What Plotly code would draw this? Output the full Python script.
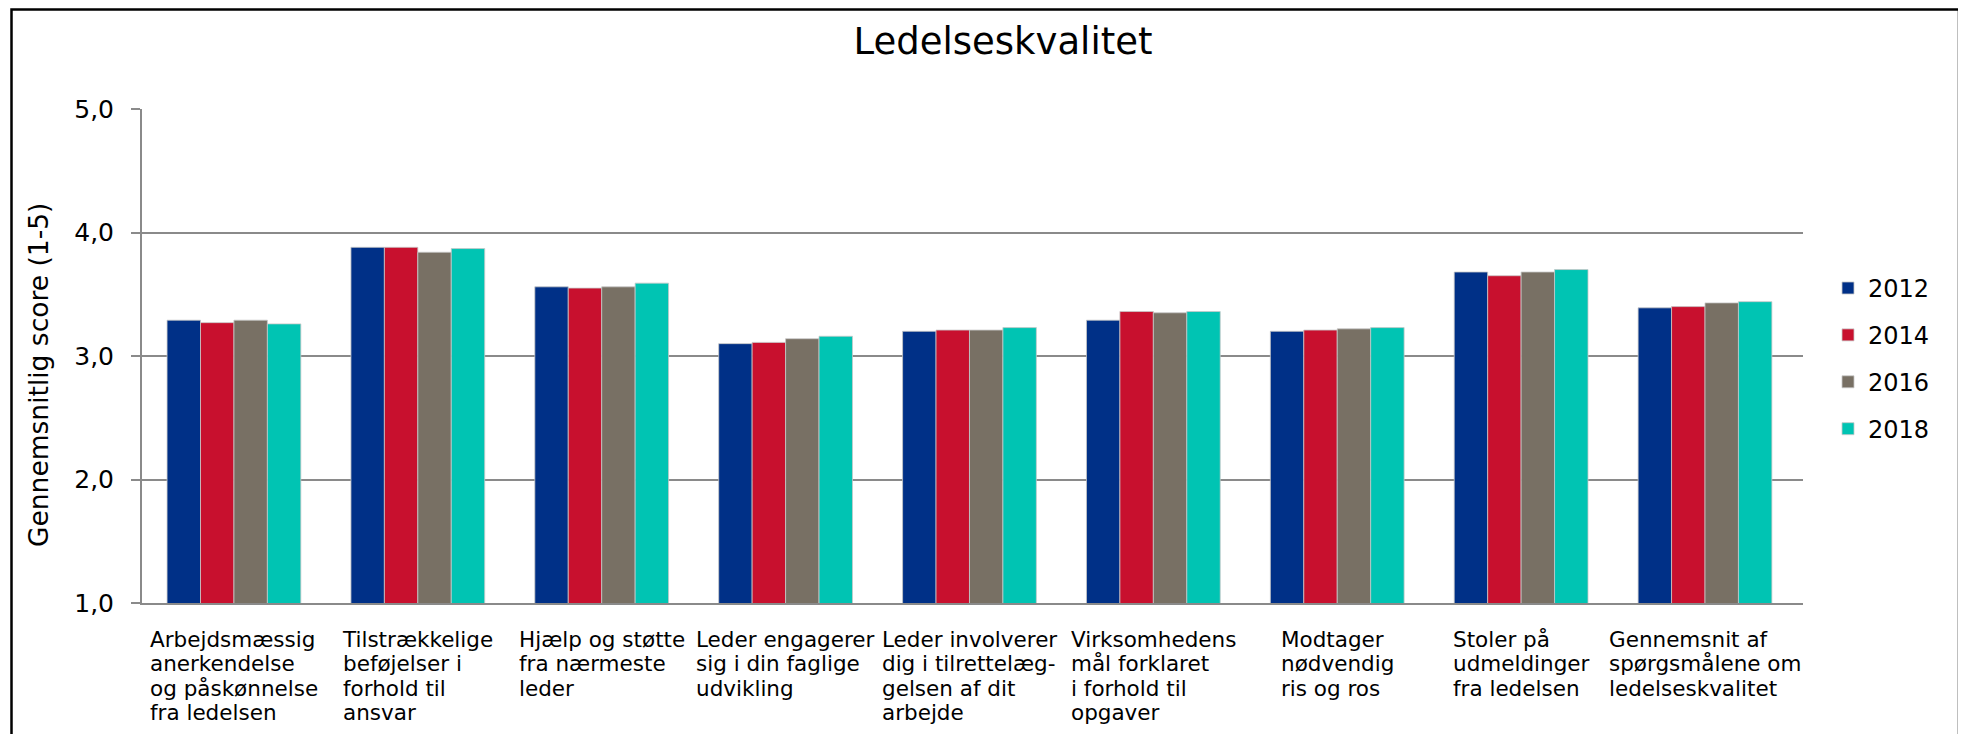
import plotly.graph_objects as go

# ---------------- data ----------------
categories = [
    "Arbejdsmæssig<br>anerkendelse<br>og påskønnelse<br>fra ledelsen",
    "Tilstrækkelige<br>beføjelser i<br>forhold til<br>ansvar",
    "Hjælp og støtte<br>fra nærmeste<br>leder",
    "Leder engagerer<br>sig i din faglige<br>udvikling",
    "Leder involverer<br>dig i tilrettelæg-<br>gelsen af dit<br>arbejde",
    "Virksomhedens<br>mål forklaret<br>i forhold til<br>opgaver",
    "Modtager<br>nødvendig<br>ris og ros",
    "Stoler på<br>udmeldinger<br>fra ledelsen",
    "Gennemsnit af<br>spørgsmålene om<br>ledelseskvalitet",
]
years = ["2012", "2014", "2016", "2018"]
values_2012 = [3.29, 3.88, 3.56, 3.10, 3.20, 3.29, 3.20, 3.68, 3.39]
values_2014 = [3.27, 3.88, 3.55, 3.11, 3.21, 3.36, 3.21, 3.65, 3.40]
values_2016 = [3.29, 3.84, 3.56, 3.14, 3.21, 3.35, 3.22, 3.68, 3.43]
values_2018 = [3.26, 3.87, 3.59, 3.16, 3.23, 3.36, 3.23, 3.70, 3.44]
series = [values_2012, values_2014, values_2016, values_2018]
colors = ["#003087", "#C8102E", "#787064", "#00C4B3"]

title_text = "Ledelseskvalitet"
y_title = "Gennemsnitlig score (1-5)"

# ---------------- layout helpers (screen pixels -> paper) ----------------
OFF = 8  # default page body margin
FIG_W, FIG_H = 1966 - OFF, 734 - OFF
L, R, T, B = 142 - OFF, 1803 - OFF, 109.3 - OFF, 602.7 - OFF
PW, PH = R - L, B - T


def px_x(px):
    return (px - OFF - L) / PW


def px_y(py):
    return (B - (py - OFF)) / PH


FONT = "DejaVu Sans, Verdana, sans-serif"
GRID = "#8a8a8a"
LABEL_SIZE = 21.5
LINE_BASE = 18.7  # base size sets line spacing (1.3 x base)

keys = [f"c{i}" for i in range(len(categories))]

fig = go.Figure()
for name, vals, col in zip(years, series, colors):
    fig.add_trace(go.Bar(
        x=keys, y=vals, name=name, legendgroup=name,
        marker=dict(color=col, line=dict(color="#c8c8c8", width=0.8)),
    ))

annotations = []
for k, lab in zip(keys, categories):
    styled = "<br>".join(
        f"<span style='font-size:{LABEL_SIZE}px'>{ln}</span>" for ln in lab.split("<br>")
    )
    annotations.append(dict(
        x=k, xref="x", y=0, yref="paper", yanchor="top", xanchor="center",
        yshift=-22, text=styled, align="left", showarrow=False,
        font=dict(family=FONT, size=LINE_BASE, color="#000000"),
    ))
annotations.append(dict(
    x=px_x(38), xref="paper", y=px_y(375), yref="paper",
    xanchor="center", yanchor="middle", textangle=-90, text=y_title,
    showarrow=False, font=dict(family=FONT, size=26.5, color="#000000"),
))

fig.update_layout(
    width=FIG_W, height=FIG_H,
    margin=dict(l=L, r=FIG_W - R, t=T, b=FIG_H - B, pad=0),
    paper_bgcolor="white", plot_bgcolor="white",
    separators=",.",
    title=dict(text=title_text, xref="container", yref="container",
               x=(1003 - OFF) / FIG_W, y=1 - (41 - OFF) / FIG_H,
               xanchor="center", yanchor="middle",
               font=dict(family=FONT, size=37, color="#000000")),
    barmode="group", bargap=0.2725, bargroupgap=0,
    showlegend=True,
    legend=dict(x=px_x(1828), xanchor="left", y=px_y(266), yanchor="top",
                font=dict(family=FONT, size=24, color="#000000"),
                tracegroupgap=12.7, bgcolor="rgba(0,0,0,0)"),
    annotations=annotations,
    shapes=[dict(type="rect", xref="paper", yref="paper",
                 x0=px_x(11.5), x1=px_x(1959), y0=px_y(790), y1=px_y(9.8),
                 line=dict(color="#000000", width=2.5), layer="above")],
)
fig.update_xaxes(showticklabels=False, showline=True, linecolor=GRID, linewidth=2,
                 ticks="", showgrid=False, zeroline=False, fixedrange=True)
fig.update_yaxes(range=[1, 5], tickvals=[1, 2, 3, 4, 5], tickformat=".1f",
                 showgrid=True, gridcolor=GRID, gridwidth=2,
                 showline=True, linecolor=GRID, linewidth=2,
                 ticks="outside", ticklen=9, tickwidth=2, tickcolor=GRID,
                 ticklabelstandoff=12,
                 tickfont=dict(family=FONT, size=25, color="#000000"),
                 zeroline=False, fixedrange=True)

fig.write_html("out.html")
